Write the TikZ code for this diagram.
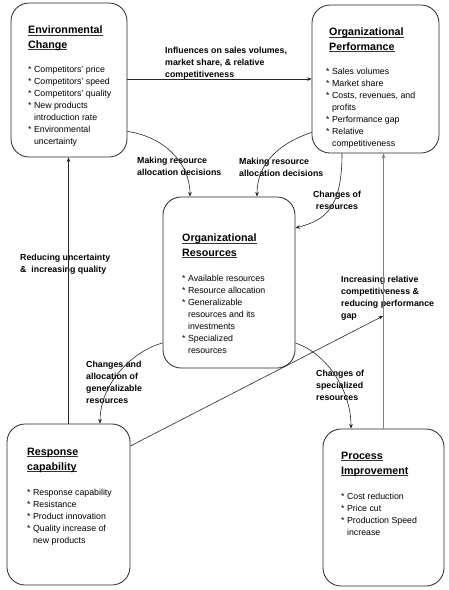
\documentclass[tikz,border=0pt]{standalone}
\usepackage{fontspec}
\setmainfont{Liberation Sans}
\usetikzlibrary{arrows.meta}
\newcommand\myind{\hspace*{5.9pt}}
\newcommand\myul[1]{\setbox0\hbox{#1}\rlap{\color{black!80}\rule[-1.7pt]{\wd0}{0.8pt}}\box0}
\begin{document}
\begin{tikzpicture}[x=1pt,y=-1pt,
  box/.style={draw=black!85, line width=0.8pt, rounded corners=18pt, inner sep=0pt},
  ttl/.style={anchor=north west, inner sep=0pt, align=left, font=\fontsize{10.7}{14.5}\selectfont\bfseries},
  blt/.style={anchor=north west, inner sep=0pt, align=left, font=\fontsize{8.8}{12}\selectfont},
  lbl/.style={anchor=north west, inner sep=0pt, align=left, font=\fontsize{8.8}{12.3}\selectfont\bfseries},
  conn/.style={line width=0.6pt, draw=black!85, -{Stealth[length=4.5pt,width=3.6pt]}},
  grayconn/.style={line width=1.3pt, draw=black!50, -{Stealth[length=5pt,width=4pt]}}
]
\useasboundingbox (0,0) rectangle (448,590);
\fill[white] (0,0) rectangle (448,590);

% boxes
\node[box, minimum width=116pt, minimum height=154pt] (env)  at (69,80) {};
\node[box, minimum width=127pt, minimum height=148pt] (perf) at (375.5,79) {};
\node[box, minimum width=132pt, minimum height=171pt] (res)  at (229,282.5) {};
\node[box, minimum width=123pt, minimum height=161pt] (resp) at (68.5,504.5) {};
\node[box, minimum width=121pt, minimum height=157pt] (proc) at (383.5,507.5) {};

% box texts
\node[ttl] (envT) at (28,26) {\myul{Environmental}\\\myul{Change}};
\node[blt] (envB) at (28,65.5) {* Competitors' price\\* Competitors' speed\\* Competitors' quality\\* New products\\\myind introduction rate\\* Environmental\\\myind uncertainty};

\node[ttl] (perfT) at (329,28) {\myul{Organizational}\\\myul{Performance}};
\node[blt] (perfB) at (326,67.5) {* Sales volumes\\* Market share\\* Costs, revenues, and\\\myind profits\\* Performance gap\\* Relative\\\myind competitiveness};

\node[ttl] (resT) at (182,234) {\myul{Organizational}\\\myul{Resources}};
\node[blt] (resB) at (182,274.5) {* Available resources\\* Resource allocation\\* Generalizable\\\myind resources and its\\\myind investments\\* Specialized\\\myind resources};

\node[ttl] (respT) at (27,448) {\myul{Response}\\\myul{capability}};
\node[blt] (respB) at (27,488.5) {* Response capability\\* Resistance\\* Product innovation\\* Quality increase of\\\myind new products};

\node[ttl] (procT) at (341,452) {\myul{Process}\\\myul{Improvement}};
\node[blt] (procB) at (341,492.5) {* Cost reduction\\* Price cut\\* Production Speed\\\myind increase};

% connector labels
\node[lbl] (l1) at (165,46.5) {Influences on sales volumes,\\market share, \& relative\\competitiveness};
\node[lbl] (l2) at (137,156.5) {Making resource\\allocation decisions};
\node[lbl] (l3) at (239,157.5) {Making resource\\allocation decisions};
\node[lbl, anchor=north, align=center] (l4) at (337,190.5) {Changes of\\resources};
\node[lbl] (l5) at (20,253.5) {Reducing uncertainty\\\&\ \ increasing quality};
\node[lbl] (l6) at (341,275.5) {Increasing relative\\competitiveness \&\\reducing performance\\gap};
\node[lbl] (l7) at (86,360.5) {Changes and\\allocation of\\generalizable\\resources};
\node[lbl] (l8) at (316,369.5) {Changes of\\specialized\\resources};

% connectors
\coordinate (gapEnd) at (383,316);
\draw[conn] (env.east |- perf.west) -- (perf.west);
\draw[conn] ([yshift=26pt]env.south east) .. controls +(35,5) and +(0,-35) .. ([xshift=-39pt]res.north);
\draw[conn] ([yshift=21pt]perf.south west) .. controls +(-30,10) and +(0,-35) .. ([xshift=28pt]res.north);
\draw[conn] ([xshift=-33.5pt]perf.south) .. controls +(0,55) and +(30,-8) .. ([yshift=54.5pt]res.east);
\draw[conn] (resp.north) -- (resp.north |- env.south);
\draw[grayconn] (proc.north) -- (proc.north |- perf.south);
\draw[conn] ([yshift=58.5pt]resp.east) -- (gapEnd);
\draw[conn] ([yshift=-60.5pt]res.west) .. controls +(-30,8) and +(0,-40) .. ([xshift=31.5pt]resp.north);
\draw[conn] ([yshift=-60.5pt]res.east) .. controls +(30,10) and +(0,-40) .. ([xshift=-32.5pt]proc.north);
\end{tikzpicture}
\end{document}
